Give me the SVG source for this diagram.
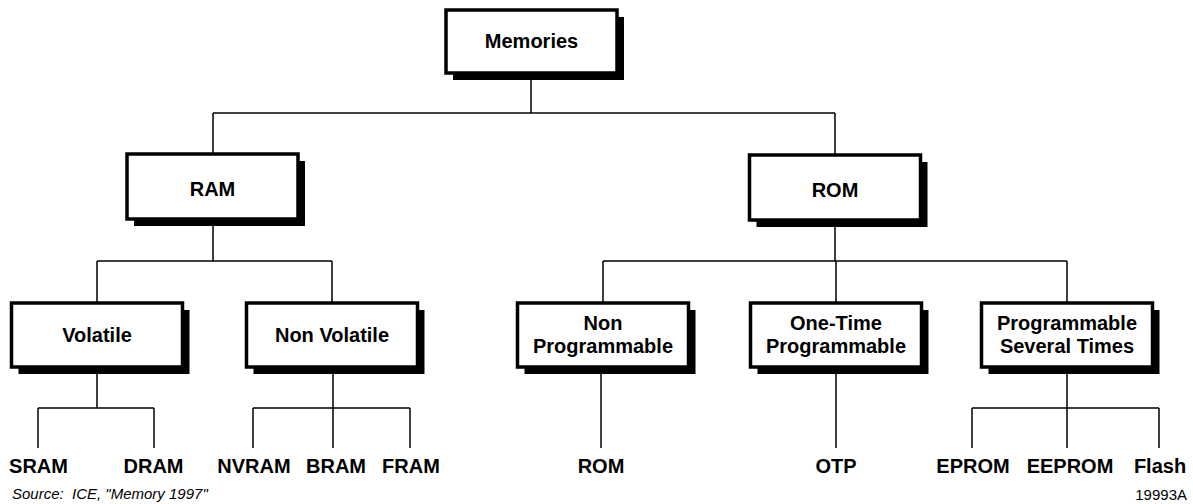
<svg xmlns="http://www.w3.org/2000/svg" width="1193" height="504" viewBox="0 0 1193 504">
  <style>
    .box { fill: #ffffff; stroke: #000000; stroke-width: 3.5; }
    .shadow { fill: #000000; }
    .lbl { font-family: "Liberation Sans", Arial, sans-serif; font-weight: bold; font-size: 20px; fill: #000000; text-anchor: middle; }
    .leaf { font-family: "Liberation Sans", Arial, sans-serif; font-weight: bold; font-size: 20px; fill: #000000; text-anchor: middle; }
    .note { font-family: "Liberation Sans", Arial, sans-serif; font-size: 15px; fill: #000000; }
    .wire { fill: none; stroke: #000000; stroke-width: 1.5; }
  </style>

  <!-- connectors -->
  <g id="connectors">
    <path class="wire" d="M531,74 V113 M213,113 H835 M213,113 V154 M835,113 V155"/>
    <path class="wire" d="M213,221 V261 M97,261 H332 M97,261 V303 M332,261 V303"/>
    <path class="wire" d="M835,222 V261 M603,261 H1067 M603,261 V303 M836,261 V303 M1067,261 V303"/>
    <path class="wire" d="M97,369 V408 M38,408 H154 M38,408 V448 M154,408 V448"/>
    <path class="wire" d="M333,369 V408 M253,408 H410 M253,408 V448 M333,408 V448 M410,408 V448"/>
    <path class="wire" d="M601,369 V448"/>
    <path class="wire" d="M836,369 V448"/>
    <path class="wire" d="M1067,369 V408 M972,408 H1159 M972,408 V448 M1067,408 V448 M1159,408 V448"/>
  </g>

  <!-- level 1 -->
  <g id="memories">
    <rect class="shadow" x="453" y="17" width="171" height="63"/>
    <rect class="box" x="446" y="10" width="171" height="63"/>
    <text class="lbl" x="531.5" y="48">Memories</text>
  </g>

  <!-- level 2 -->
  <g id="ram">
    <rect class="shadow" x="134" y="161" width="171" height="65"/>
    <rect class="box" x="127" y="154" width="171" height="65"/>
    <text class="lbl" x="212.5" y="196">RAM</text>
  </g>
  <g id="rom">
    <rect class="shadow" x="756.5" y="162" width="171" height="65"/>
    <rect class="box" x="749.5" y="155" width="171" height="65"/>
    <text class="lbl" x="835" y="197">ROM</text>
  </g>

  <!-- level 3 -->
  <g id="volatile">
    <rect class="shadow" x="18.5" y="310" width="171" height="64"/>
    <rect class="box" x="11.5" y="303" width="171" height="64"/>
    <text class="lbl" x="97" y="342">Volatile</text>
  </g>
  <g id="non-volatile">
    <rect class="shadow" x="253.5" y="310" width="171" height="64"/>
    <rect class="box" x="246.5" y="303" width="171" height="64"/>
    <text class="lbl" x="332" y="342">Non Volatile</text>
  </g>
  <g id="non-programmable">
    <rect class="shadow" x="524.5" y="310" width="171" height="64"/>
    <rect class="box" x="517.5" y="303" width="171" height="64"/>
    <text class="lbl" x="603" y="330">Non</text>
    <text class="lbl" x="603" y="353">Programmable</text>
  </g>
  <g id="one-time-programmable">
    <rect class="shadow" x="757.5" y="310" width="171" height="64"/>
    <rect class="box" x="750.5" y="303" width="171" height="64"/>
    <text class="lbl" x="836" y="330">One-Time</text>
    <text class="lbl" x="836" y="353">Programmable</text>
  </g>
  <g id="programmable-several-times">
    <rect class="shadow" x="988.5" y="310" width="171" height="64"/>
    <rect class="box" x="981.5" y="303" width="171" height="64"/>
    <text class="lbl" x="1067" y="330">Programmable</text>
    <text class="lbl" x="1067" y="353">Several Times</text>
  </g>

  <!-- leaves -->
  <g id="sram"><text class="leaf" x="38.5" y="473">SRAM</text></g>
  <g id="dram"><text class="leaf" x="153.5" y="473">DRAM</text></g>
  <g id="nvram"><text class="leaf" x="254" y="473">NVRAM</text></g>
  <g id="bram"><text class="leaf" x="336" y="473">BRAM</text></g>
  <g id="fram"><text class="leaf" x="411" y="473">FRAM</text></g>
  <g id="rom-leaf"><text class="leaf" x="601" y="473">ROM</text></g>
  <g id="otp"><text class="leaf" x="836" y="473">OTP</text></g>
  <g id="eprom"><text class="leaf" x="973" y="473">EPROM</text></g>
  <g id="eeprom"><text class="leaf" x="1070" y="473">EEPROM</text></g>
  <g id="flash"><text class="leaf" x="1160" y="473">Flash</text></g>

  <!-- footnotes -->
  <text class="note" x="12" y="499" font-style="italic" xml:space="preserve">Source:  ICE, "Memory 1997"</text>
  <text class="note" x="1187" y="500" text-anchor="end">19993A</text>
</svg>
